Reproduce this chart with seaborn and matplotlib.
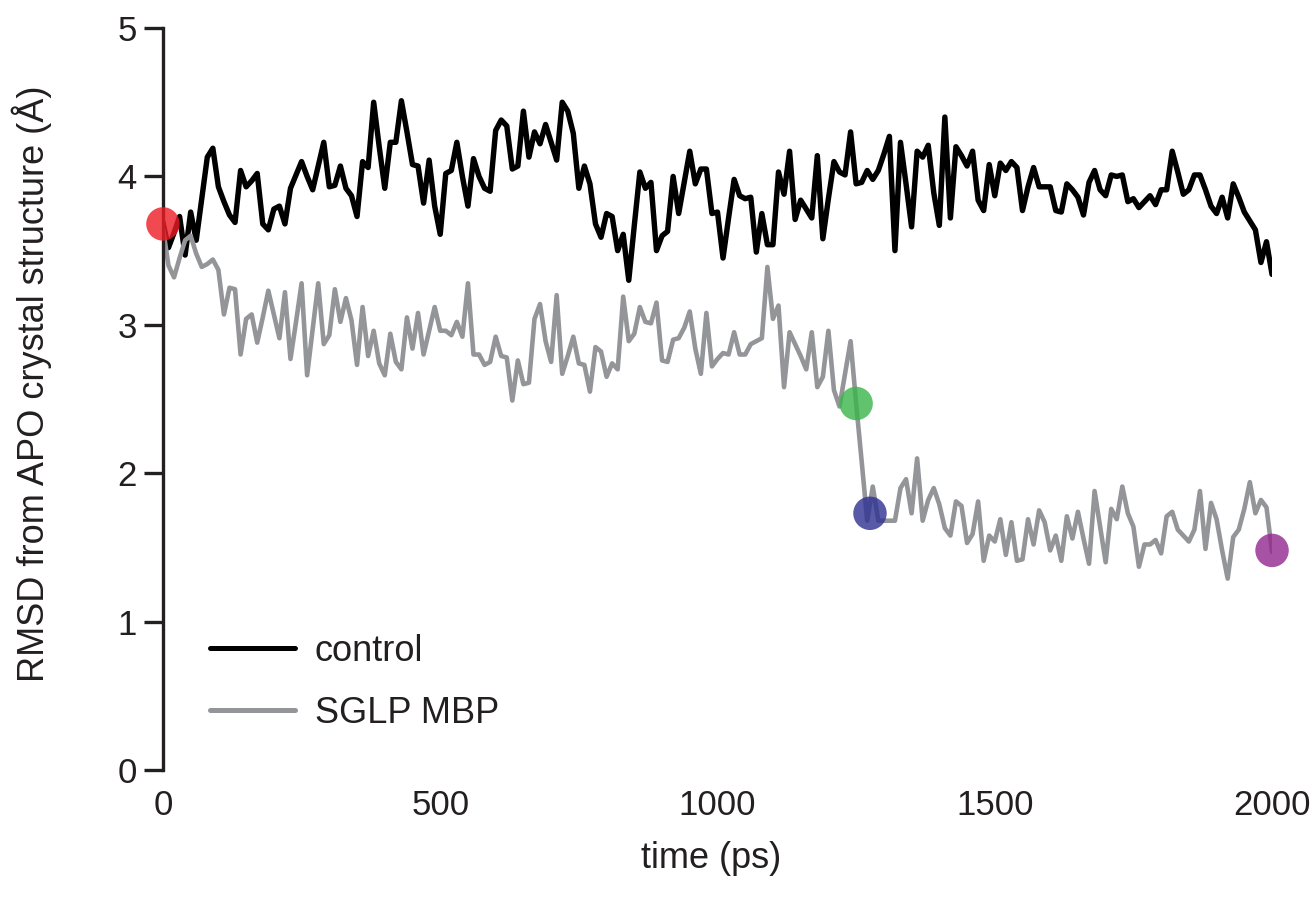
import numpy as np
import pandas as pd
import seaborn as sns
import matplotlib.pyplot as plt

# RMSD trace, one value every 10 ps
time_ps = np.arange(0, 2001, 10)

control = [
    3.69, 3.52, 3.62, 3.73, 3.47, 3.76, 3.57, 3.85, 4.13, 4.19,
    3.93, 3.83, 3.74, 3.69, 4.04, 3.93, 3.97, 4.02, 3.68, 3.64,
    3.78, 3.80, 3.68, 3.92, 4.01, 4.10, 4.00, 3.91, 4.07, 4.23,
    3.93, 3.94, 4.07, 3.92, 3.87, 3.73, 4.10, 4.06, 4.50, 4.20,
    3.92, 4.23, 4.23, 4.51, 4.30, 4.08, 4.07, 3.82, 4.11, 3.80,
    3.61, 4.02, 4.04, 4.23, 4.00, 3.80, 4.12, 4.00, 3.92, 3.90,
    4.31, 4.38, 4.34, 4.05, 4.07, 4.44, 4.13, 4.30, 4.22, 4.35,
    4.23, 4.11, 4.50, 4.44, 4.29, 3.92, 4.07, 3.95, 3.68, 3.59,
    3.75, 3.73, 3.50, 3.61, 3.30, 3.67, 4.03, 3.92, 3.96, 3.50,
    3.60, 3.63, 4.00, 3.75, 3.96, 4.17, 3.95, 4.05, 4.05, 3.75,
    3.76, 3.45, 3.72, 3.98, 3.87, 3.85, 3.86, 3.49, 3.75, 3.54,
    3.54, 4.03, 3.88, 4.17, 3.71, 3.84, 3.78, 3.72, 4.14, 3.58,
    3.85, 4.10, 4.03, 4.01, 4.30, 3.95, 3.96, 4.04, 3.98, 4.04,
    4.15, 4.27, 3.50, 4.23, 3.95, 3.66, 4.17, 4.13, 4.21, 3.89,
    3.67, 4.40, 3.72, 4.20, 4.14, 4.07, 4.17, 3.84, 3.77, 4.08,
    3.87, 4.09, 4.04, 4.10, 4.06, 3.77, 3.93, 4.06, 3.93, 3.93,
    3.93, 3.77, 3.76, 3.95, 3.91, 3.86, 3.74, 3.96, 4.04, 3.91,
    3.87, 4.01, 4.00, 4.01, 3.83, 3.85, 3.79, 3.83, 3.87, 3.81,
    3.91, 3.91, 4.17, 4.03, 3.88, 3.91, 4.01, 4.01, 3.91, 3.80,
    3.75, 3.86, 3.72, 3.95, 3.86, 3.76, 3.70, 3.64, 3.42, 3.56,
    3.34,
]

sglp_mbp = [
    3.65, 3.40, 3.32, 3.45, 3.57, 3.60, 3.48, 3.39, 3.41, 3.44,
    3.37, 3.07, 3.25, 3.24, 2.80, 3.04, 3.07, 2.88, 3.05, 3.23,
    3.07, 2.91, 3.22, 2.77, 3.02, 3.28, 2.66, 2.97, 3.28, 2.87,
    2.93, 3.24, 3.02, 3.18, 3.03, 2.73, 3.12, 2.79, 2.96, 2.74,
    2.66, 2.94, 2.75, 2.70, 3.05, 2.84, 3.08, 2.80, 2.96, 3.12,
    2.96, 2.96, 2.93, 3.02, 2.92, 3.28, 2.80, 2.80, 2.73, 2.75,
    2.92, 2.79, 2.78, 2.49, 2.76, 2.60, 2.61, 3.04, 3.14, 2.89,
    2.75, 3.20, 2.67, 2.79, 2.92, 2.74, 2.73, 2.55, 2.85, 2.82,
    2.65, 2.74, 2.70, 3.19, 2.89, 2.94, 3.12, 3.02, 3.01, 3.15,
    2.76, 2.75, 2.90, 2.91, 2.98, 3.09, 2.84, 2.67, 3.08, 2.72,
    2.77, 2.81, 2.80, 2.95, 2.80, 2.80, 2.87, 2.89, 2.91, 3.39,
    3.04, 3.13, 2.58, 2.95, 2.87, 2.79, 2.70, 2.95, 2.58, 2.65,
    2.96, 2.56, 2.45, 2.67, 2.89, 2.47, 2.08, 1.68, 1.91, 1.68,
    1.68, 1.68, 1.68, 1.90, 1.96, 1.73, 2.10, 1.68, 1.82, 1.90,
    1.79, 1.63, 1.58, 1.81, 1.78, 1.53, 1.59, 1.81, 1.41, 1.58,
    1.54, 1.69, 1.45, 1.67, 1.41, 1.42, 1.69, 1.52, 1.75, 1.67,
    1.48, 1.58, 1.41, 1.71, 1.56, 1.74, 1.56, 1.39, 1.88, 1.64,
    1.40, 1.76, 1.69, 1.91, 1.73, 1.64, 1.37, 1.52, 1.52, 1.55,
    1.46, 1.71, 1.74, 1.62, 1.58, 1.54, 1.62, 1.88, 1.49, 1.80,
    1.69, 1.48, 1.29, 1.57, 1.62, 1.76, 1.94, 1.73, 1.82, 1.77,
    1.47,
]

# highlighted snapshots
snap_time = [0, 1250, 1275, 2000]
snap_rmsd = [3.68, 2.47, 1.73, 1.48]
snap_color = ["#ed1c24", "#39b54a", "#2e3192", "#92278f"]

df = pd.DataFrame({
    "time": np.concatenate([time_ps, time_ps]),
    "rmsd": control + sglp_mbp,
    "run": ["control"] * len(time_ps) + ["SGLP MBP"] * len(time_ps),
})

sns.set_style("ticks")
plt.rcParams["font.family"] = ["Liberation Sans", "DejaVu Sans"]
plt.rcParams["text.color"] = "#231f20"
plt.rcParams["axes.labelcolor"] = "#231f20"
plt.rcParams["xtick.color"] = "#231f20"
plt.rcParams["ytick.color"] = "#231f20"

fig = plt.figure(figsize=(13.13, 9.07), dpi=100)
ax = fig.add_axes([0.1241, 0.151, 0.8447, 0.8181])

sns.lineplot(data=df, x="time", y="rmsd", hue="run",
             palette={"control": "#000000", "SGLP MBP": "#939598"},
             linewidth=3.6, ax=ax)
for ln, w in zip(ax.lines, [3.9, 3.3]):
    ln.set_linewidth(w)

for t, r, c in zip(snap_time, snap_rmsd, snap_color):
    ax.scatter(t, r, s=580, color=c, alpha=0.8, edgecolor="none",
               zorder=5, clip_on=False)

ax.set_xlim(0, 2000)
ax.set_ylim(0, 5)
ax.set_xticks([0, 500, 1000, 1500, 2000])
ax.set_yticks([0, 1, 2, 3, 4, 5])

sns.despine(ax=ax, top=True, right=True, bottom=True)
ax.spines["left"].set_linewidth(2.4)
ax.spines["left"].set_color("#231f20")
ax.tick_params(axis="y", length=14, width=2.4, labelsize=25, pad=5)
ax.tick_params(axis="x", length=0, labelsize=25, pad=14)

ax.set_xlabel("time (ps)", fontsize=26)
ax.xaxis.set_label_coords(0.494, -0.095)
ax.set_ylabel("RMSD from APO crystal structure (\u00c5)", fontsize=26)
ax.yaxis.set_label_coords(-0.10, 0.52)

leg = ax.legend(frameon=False, fontsize=26, handlelength=2.35, handletextpad=0.55,
                labelspacing=0.75, loc="lower left", bbox_to_anchor=(0.013, 0.009))
for h in leg.get_lines():
    h.set_linewidth(3.6)

fig.savefig("out.png", dpi=100)
